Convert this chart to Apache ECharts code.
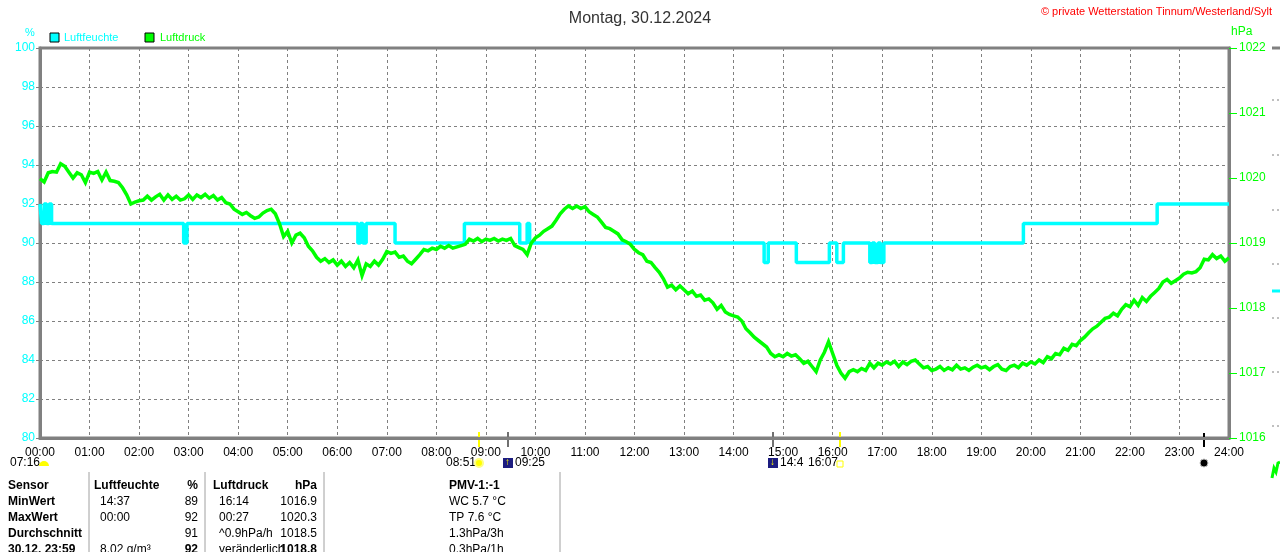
<!DOCTYPE html>
<html>
<head>
<meta charset="utf-8">
<script src="https://cdn.jsdelivr.net/npm/echarts@6/dist/echarts.min.js"></script>
<style>
  html, body { margin: 0; padding: 0; background: #fff; }
  #chart { width: 1280px; height: 552px; }
</style>
</head>
<body>
<div id="chart"></div>
<script>
// Luftfeuchte: Zeitpunkte der Wertwechsel (Stufenlinie)
const humTimes = ['00:00', '00:02', '00:05', '00:08', '00:11', '00:14', '02:54', '02:58', '06:25', '06:28', '06:31', '06:35',
    '07:10', '08:34', '09:41', '09:50', '09:53', '14:37', '14:42', '15:16', '15:56', '16:05', '16:13',
    '16:45', '16:48', '16:51', '16:55', '16:58', '17:02', '19:51', '22:33', '24:00']
const humValues = [92, 91, 92, 91, 92, 91, 90, 91, 90, 91, 90, 91,
    90, 91, 90, 91, 90, 89, 90, 89, 90, 89, 90,
    89, 90, 89, 90, 89, 90, 91, 92, 92]

// Luftdruck: alle 5 Minuten ab 00:00 (eine Zeile je Stunde)
const pressStep = 5
const pressValues = [
    1019.99, 1019.94, 1020.08, 1020.10, 1020.09, 1020.22, 1020.18, 1020.09, 1020.00, 1020.08, 1020.05, 1019.93,
    1020.09, 1020.07, 1020.10, 1019.97, 1020.09, 1019.96, 1019.95, 1019.93, 1019.85, 1019.74, 1019.60, 1019.63,
    1019.65, 1019.66, 1019.72, 1019.66, 1019.71, 1019.75, 1019.66, 1019.74, 1019.67, 1019.72, 1019.66, 1019.68,
    1019.74, 1019.67, 1019.74, 1019.70, 1019.75, 1019.69, 1019.73, 1019.66, 1019.70, 1019.62, 1019.60, 1019.52,
    1019.48, 1019.44, 1019.47, 1019.42, 1019.38, 1019.40, 1019.46, 1019.50, 1019.52, 1019.45, 1019.30, 1019.10,
    1019.18, 1019.00, 1019.12, 1019.15, 1019.08, 1018.95, 1018.88, 1018.78, 1018.72, 1018.76, 1018.70, 1018.74,
    1018.66, 1018.72, 1018.64, 1018.70, 1018.62, 1018.74, 1018.50, 1018.68, 1018.64, 1018.72, 1018.66, 1018.75,
    1018.87, 1018.84, 1018.86, 1018.78, 1018.80, 1018.72, 1018.68, 1018.75, 1018.82, 1018.90, 1018.88, 1018.92,
    1018.90, 1018.95, 1018.92, 1018.96, 1018.92, 1018.94, 1018.96, 1018.98, 1019.06, 1019.03, 1019.07, 1019.02,
    1019.06, 1019.04, 1019.07, 1019.03, 1019.06, 1019.04, 1019.07, 1018.96, 1018.93, 1018.90, 1018.82, 1019.00,
    1019.08, 1019.12, 1019.18, 1019.22, 1019.26, 1019.35, 1019.45, 1019.52, 1019.57, 1019.53, 1019.57, 1019.53,
    1019.56, 1019.48, 1019.44, 1019.40, 1019.32, 1019.24, 1019.22, 1019.18, 1019.14, 1019.05, 1019.02, 1018.98,
    1018.90, 1018.85, 1018.82, 1018.72, 1018.70, 1018.62, 1018.55, 1018.45, 1018.32, 1018.35, 1018.28, 1018.34,
    1018.28, 1018.22, 1018.26, 1018.18, 1018.20, 1018.12, 1018.14, 1018.08, 1017.98, 1018.04, 1017.94, 1017.90,
    1017.88, 1017.86, 1017.80, 1017.68, 1017.62, 1017.55, 1017.50, 1017.45, 1017.40, 1017.30, 1017.25, 1017.28,
    1017.25, 1017.30, 1017.26, 1017.28, 1017.22, 1017.15, 1017.18, 1017.10, 1017.02, 1017.20, 1017.32, 1017.48,
    1017.30, 1017.12, 1017.00, 1016.92, 1017.02, 1017.05, 1017.02, 1017.07, 1017.04, 1017.15, 1017.08, 1017.15,
    1017.12, 1017.17, 1017.14, 1017.18, 1017.10, 1017.17, 1017.13, 1017.18, 1017.20, 1017.14, 1017.08, 1017.10,
    1017.04, 1017.06, 1017.10, 1017.04, 1017.08, 1017.05, 1017.12, 1017.06, 1017.08, 1017.04, 1017.09, 1017.12,
    1017.08, 1017.10, 1017.05, 1017.10, 1017.13, 1017.06, 1017.04, 1017.10, 1017.12, 1017.08, 1017.15, 1017.12,
    1017.17, 1017.14, 1017.20, 1017.16, 1017.25, 1017.22, 1017.30, 1017.28, 1017.38, 1017.35, 1017.44, 1017.42,
    1017.50, 1017.55, 1017.62, 1017.68, 1017.72, 1017.78, 1017.84, 1017.86, 1017.92, 1017.88, 1017.98, 1018.05,
    1018.02, 1018.12, 1018.04, 1018.16, 1018.10, 1018.18, 1018.24, 1018.30, 1018.40, 1018.44, 1018.38, 1018.42,
    1018.46, 1018.52, 1018.55, 1018.54, 1018.56, 1018.62, 1018.75, 1018.74, 1018.82, 1018.76, 1018.80, 1018.72,
    1018.77
]

const hourLabels = ['00:00', '01:00', '02:00', '03:00', '04:00', '05:00', '06:00', '07:00', '08:00', '09:00', '10:00', '11:00', '12:00',
    '13:00', '14:00', '15:00', '16:00', '17:00', '18:00', '19:00', '20:00', '21:00', '22:00', '23:00', '24:00']

// Tabelle unten
const tableRows = [
    ['Sensor', 'Luftfeuchte', '%', 'Luftdruck', 'hPa', 'PMV-1:-1'],
    ['MinWert', '14:37', '89', '16:14', '1016.9', 'WC 5.7 °C'],
    ['MaxWert', '00:00', '92', '00:27', '1020.3', 'TP 7.6 °C'],
    ['Durchschnitt', '', '91', '^0.9hPa/h', '1018.5', '1.3hPa/3h'],
    ['30.12. 23:59', '8.02 g/m³', '92', 'veränderlich', '1018.8', '0.3hPa/1h']
]

function toHours(s) {
    const p = s.split(':')
    return +p[0] + p[1] / 60
}

const humData = humTimes.map((t, i) => [toHours(t), humValues[i]])
const pressData = pressValues.map((v, i) => [i * pressStep / 60, v])

const CYAN = '#00ffff'
const GREEN = '#00ff00'
const GRAY = '#808080'
const FONT = 'Liberation Sans, Arial, sans-serif'

const chart = echarts.init(document.getElementById('chart'))

// Tabelle als Grafik-Texte
const colX = [8, 94, 198, 213, 317, 449]
const colAlign = ['left', 'left', 'right', 'left', 'right', 'left']
const rowY = [480, 496, 512, 528, 544]
const tableText = []
tableRows.forEach((row, r) => {
    row.forEach((txt, c) => {
        const bold = r === 0 || c === 0 || (r === 4 && (c === 2 || c === 4))
        tableText.push({
            type: 'text', left: colAlign[c] === 'right' ? undefined : colX[c] + (r > 0 && (c === 1 || c === 3) ? 6 : 0),
            right: colAlign[c] === 'right' ? 1280 - colX[c] : undefined,
            top: rowY[r],
            style: { text: txt, fill: '#000', font: (bold ? 'bold ' : '') + '12px ' + FONT }
        })
    })
})
const separators = [89, 205, 324, 560].map(x => ({
    type: 'line', shape: { x1: x, y1: 472, x2: x, y2: 552 },
    style: { stroke: '#a0a0a0', lineWidth: 1 }
}))
// kleine Striche am rechten Rand (Rest des Nachbardiagramms)
const edgeDashes = [100, 155, 210, 264, 318, 372, 426].map(y => ({
    type: 'line', shape: { x1: 1272, y1: y, x2: 1280, y2: y },
    style: { stroke: GRAY, lineWidth: 1, lineDash: [2, 3] }
}))

const option = {
    animation: false,
    backgroundColor: '#fff',
    title: {
        text: 'Montag, 30.12.2024', left: 'center', top: 6,
        textStyle: { fontFamily: FONT, fontSize: 16, fontWeight: 'normal', color: '#333' }
    },
    grid: {
        left: 40, right: 51, top: 48, bottom: 114,
        show: true, borderColor: GRAY, borderWidth: 3
    },
    xAxis: {
        type: 'value', min: 0, max: 24, interval: 1,
        axisLine: { lineStyle: { color: GRAY, width: 3 } },
        axisTick: { show: false },
        axisLabel: {
            color: '#000', fontFamily: FONT, fontSize: 12, margin: 9,
            formatter: v => hourLabels[v]
        },
        splitLine: { show: true, lineStyle: { color: GRAY, type: [3, 3], width: 1 } }
    },
    yAxis: [
        {
            type: 'value', min: 80, max: 100, interval: 2,
            position: 'left',
            axisLine: { show: true, lineStyle: { color: GRAY, width: 3 } },
            axisTick: { show: true, length: 4, lineStyle: { color: GRAY } },
            axisLabel: { color: CYAN, fontFamily: FONT, fontSize: 12, margin: 5 },
            splitLine: { show: true, lineStyle: { color: GRAY, type: [3, 3], width: 1 } }
        },
        {
            type: 'value', min: 1016, max: 1022, interval: 1,
            position: 'right',
            axisLine: { show: true, lineStyle: { color: GRAY, width: 3 } },
            axisTick: { show: true, length: 8, lineStyle: { color: GREEN } },
            axisLabel: { color: GREEN, fontFamily: FONT, fontSize: 12, margin: 10, formatter: v => String(v) },
            splitLine: { show: false }
        }
    ],
    series: [
        {
            name: 'Luftfeuchte', type: 'line', yAxisIndex: 0, step: 'end',
            data: humData, showSymbol: false,
            lineStyle: { color: CYAN, width: 3.5 }, z: 3
        },
        {
            name: 'Luftdruck', type: 'line', yAxisIndex: 1,
            data: pressData, showSymbol: false,
            lineStyle: { color: GREEN, width: 3.5, join: 'miter' }, z: 4
        }
    ],
    graphic: [
        { type: 'text', right: 8, top: 6, style: { text: '© private Wetterstation Tinnum/Westerland/Sylt', fill: '#ff0000', font: '11px ' + FONT } },
        { type: 'text', left: 25, top: 27, style: { text: '%', fill: CYAN, font: '11px ' + FONT } },
        { type: 'text', left: 1231, top: 26, style: { text: 'hPa', fill: GREEN, font: '12px ' + FONT } },
        // Legende
        { type: 'rect', shape: { x: 50, y: 33, width: 9, height: 9 }, style: { fill: CYAN, stroke: '#000', lineWidth: 1 } },
        { type: 'text', left: 64, top: 32, style: { text: 'Luftfeuchte', fill: CYAN, font: '11px ' + FONT } },
        { type: 'rect', shape: { x: 145, y: 33, width: 9, height: 9 }, style: { fill: GREEN, stroke: '#000', lineWidth: 1 } },
        { type: 'text', left: 160, top: 32, style: { text: 'Luftdruck', fill: GREEN, font: '11px ' + FONT } },
        // Sonne / Mond Markierungen
        { type: 'line', shape: { x1: 479, y1: 432, x2: 479, y2: 447 }, style: { stroke: '#ffff00', lineWidth: 2 } },
        { type: 'line', shape: { x1: 508, y1: 432, x2: 508, y2: 447 }, style: { stroke: '#707070', lineWidth: 2 } },
        { type: 'line', shape: { x1: 773, y1: 432, x2: 773, y2: 447 }, style: { stroke: '#707070', lineWidth: 2 } },
        { type: 'line', shape: { x1: 840, y1: 432, x2: 840, y2: 447 }, style: { stroke: '#ffff00', lineWidth: 2 } },
        { type: 'line', shape: { x1: 1204, y1: 433, x2: 1204, y2: 447 }, style: { stroke: '#000', lineWidth: 2 } },
        { type: 'text', left: 10, top: 457, style: { text: '07:16', fill: '#000', font: '12px ' + FONT } },
        { type: 'sector', shape: { cx: 44, cy: 466, r: 5, startAngle: Math.PI, endAngle: 2 * Math.PI }, style: { fill: '#ffff00' } },
        { type: 'text', left: 446, top: 457, style: { text: '08:51', fill: '#000', font: '12px ' + FONT } },
        { type: 'circle', shape: { cx: 479, cy: 463, r: 4 }, style: { fill: '#ffff00', stroke: '#ffff80', lineWidth: 2 } },
        { type: 'rect', shape: { x: 503, y: 458, width: 10, height: 10 }, style: { fill: '#1c1c80' } },
        { type: 'text', left: 505, top: 457, style: { text: '↑', fill: '#ffff00', font: 'bold 10px ' + FONT } },
        { type: 'text', left: 515, top: 457, style: { text: '09:25', fill: '#000', font: '12px ' + FONT } },
        { type: 'rect', shape: { x: 768, y: 458, width: 10, height: 10 }, style: { fill: '#1c1c80' } },
        { type: 'text', left: 770, top: 457, style: { text: '↓', fill: '#ffff00', font: 'bold 10px ' + FONT } },
        { type: 'text', left: 780, top: 457, style: { text: '14:4', fill: '#000', font: '12px ' + FONT } },
        { type: 'text', left: 808, top: 457, style: { text: '16:07', fill: '#000', font: '12px ' + FONT } },
        { type: 'rect', shape: { x: 837, y: 461, width: 6, height: 6 }, style: { fill: 'none', stroke: '#ffff00', lineWidth: 1 } },
        { type: 'circle', shape: { cx: 1204, cy: 463, r: 4 }, style: { fill: '#000', stroke: '#c0c0c0', lineWidth: 1 } },
        // Rest eines Nachbardiagramms am rechten Rand
        { type: 'line', shape: { x1: 1272, y1: 48, x2: 1280, y2: 48 }, style: { stroke: GRAY, lineWidth: 3 } },
        { type: 'line', shape: { x1: 1272, y1: 291, x2: 1280, y2: 291 }, style: { stroke: CYAN, lineWidth: 3 } },
        { type: 'polyline', shape: { points: [[1272, 478], [1274, 468], [1276, 472], [1278, 463], [1280, 462]] }, style: { stroke: GREEN, lineWidth: 3 } },
        ...edgeDashes,
        ...separators,
        ...tableText
    ]
}
chart.setOption(option)
window.addEventListener('resize', () => {
    chart.resize()
})
</script>
</body>
</html>
